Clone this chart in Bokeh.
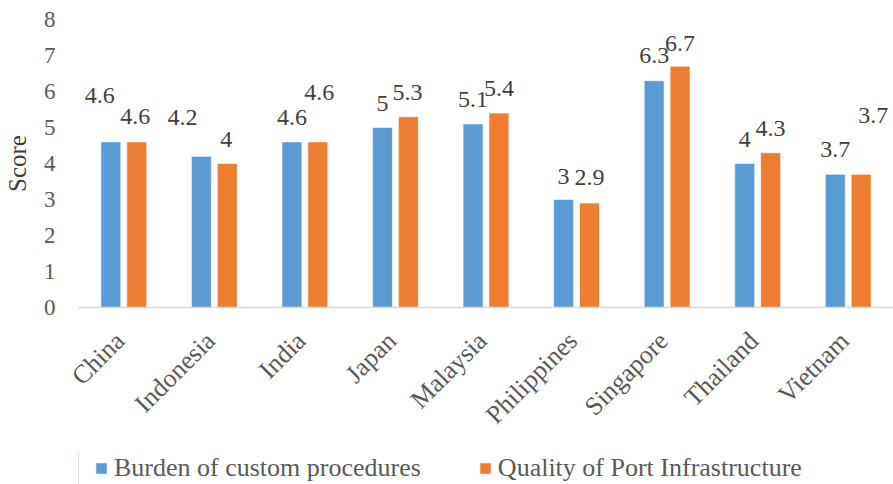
from bokeh.core.properties import value
from bokeh.embed import file_html
from bokeh.layouts import column
from bokeh.models import (ColumnDataSource, FixedTicker, Legend, LegendItem,
                          LinearAxis, Range1d)
from bokeh.plotting import figure
from bokeh.resources import INLINE
from math import pi

# ---- data -------------------------------------------------------------
countries = ["China", "Indonesia", "India", "Japan", "Malaysia",
             "Philippines", "Singapore", "Thailand", "Vietnam"]
burden = [4.6, 4.2, 4.6, 5.0, 5.1, 3.0, 6.3, 4.0, 3.7]
port = [4.6, 4.0, 4.6, 5.3, 5.4, 2.9, 6.7, 4.3, 3.7]
series = ["Burden of custom procedures", "Quality of Port Infrastructure"]
y_ticks = [0, 1, 2, 3, 4, 5, 6, 7, 8]

# ---- value-label nudges (pixels: +dx right, +dy up from bar top) ------
burden_dx = [-11, -19, 0, 0, 0, 0, 0, 0, 0]
burden_dy = [46, 39, 24, 24, 24, 23, 25, 24, 25]
port_dx = [-1.5, -1, 1.5, -1, 0, 0, 0, 0, 12]
port_dy = [25, 24, 49, 24, 25, 26, 23, 24, 59]

BLUE = "#5B9BD5"
ORANGE = "#ED7D31"
SERIF = "Liberation Serif"

# category slots: 100 units per country on a numeric x scale
SLOT = 100
OFF = 14.3          # bar centre offset from slot centre
W = 22              # bar width
LABEL_SHIFT = 4     # category label anchor, slightly left of slot centre

centres = [SLOT * i + SLOT // 2 for i in range(len(countries))]
label_ticks = [c - LABEL_SHIFT for c in centres]


def fmt(v):
    return f"{v:g}"


src_b = ColumnDataSource(dict(
    x=[c - OFF for c in centres], val=burden, lab=[fmt(v) for v in burden],
    dx=burden_dx, dy=[-d for d in burden_dy]))
src_p = ColumnDataSource(dict(
    x=[c + OFF for c in centres], val=port, lab=[fmt(v) for v in port],
    dx=port_dx, dy=[-d for d in port_dy]))

# ---- main chart -------------------------------------------------------
p = figure(
    x_range=Range1d(0, SLOT * len(countries)),
    y_range=Range1d(0, 8),
    width=893, height=452,
    min_border_left=76, min_border_right=0,
    min_border_top=19, min_border_bottom=145,
    output_backend="svg", toolbar_location=None,
    background_fill_color="white", border_fill_color="white",
    x_axis_location=None,
)
p.outline_line_color = None
p.xgrid.grid_line_color = None
p.ygrid.grid_line_color = None

p.vbar(x="x", top="val", width=W, source=src_b,
       fill_color=BLUE, line_color="white", line_width=0.6)
p.vbar(x="x", top="val", width=W, source=src_p,
       fill_color=ORANGE, line_color="white", line_width=0.6)

for src in (src_b, src_p):
    p.text(x="x", y="val", text="lab", x_offset="dx", y_offset="dy",
           source=src, text_font=value(SERIF), text_font_size="24px",
           text_color="#404040", text_align="center", text_baseline="middle")

# ---- y axis -----------------------------------------------------------
yax = p.yaxis[0]
yax.ticker = FixedTicker(ticks=y_ticks)
yax.axis_line_color = None
yax.major_tick_line_color = None
yax.minor_tick_line_color = None
yax.major_tick_out = 0
yax.major_tick_in = 0
yax.minor_tick_out = 0
yax.minor_tick_in = 0
yax.major_label_standoff = 23
yax.major_label_text_font = SERIF
yax.major_label_text_font_size = "23px"
yax.major_label_text_color = "#595959"
yax.axis_label = "Score"
yax.axis_label_text_font = SERIF
yax.axis_label_text_font_size = "25px"
yax.axis_label_text_font_style = "normal"
yax.axis_label_text_color = "#404040"
yax.axis_label_standoff = 10

# ---- category axis ----------------------------------------------------
xaxis = LinearAxis(
    ticker=FixedTicker(ticks=label_ticks),
    major_label_overrides={t: c for t, c in zip(label_ticks, countries)},
    axis_line_color="#D9D9D9", axis_line_width=1.5,
    major_tick_line_color=None, minor_tick_line_color=None,
    major_tick_out=0, major_tick_in=0, minor_tick_out=0, minor_tick_in=0,
    major_label_orientation=pi / 4, major_label_standoff=29,
    major_label_text_font=SERIF, major_label_text_font_size="26px",
    major_label_text_color="#595959",
)
p.add_layout(xaxis, "below")

# ---- legend strip -----------------------------------------------------
lg = figure(
    width=893, height=32, min_border=0,
    x_range=Range1d(0, 1), y_range=Range1d(0, 1),
    output_backend="svg", toolbar_location=None,
    x_axis_location=None, y_axis_location=None,
    background_fill_color="white", border_fill_color="white",
)
lg.outline_line_color = None
lg.xgrid.grid_line_color = None
lg.ygrid.grid_line_color = None
# key swatches: one bar each, parked outside the strip's visible range
key_b = lg.vbar(x=[-5], top=[1], width=1, fill_color=BLUE,
                line_color="white", line_width=0.6)
key_p = lg.vbar(x=[-5], top=[1], width=1, fill_color=ORANGE,
                line_color="white", line_width=0.6)

legend = Legend(
    items=[LegendItem(label=series[0], renderers=[key_b]),
           LegendItem(label=series[1], renderers=[key_p])],
    orientation="horizontal", location="center_left", margin=16,
    glyph_width=14, glyph_height=14, label_standoff=6, spacing=57,
    padding=0, border_line_color=None, background_fill_alpha=0,
    label_text_font=SERIF, label_text_font_size="26px",
    label_text_color="#595959",
)
lg.add_layout(legend)

open("out.html", "w").write(file_html(column(p, lg, spacing=0), INLINE))
